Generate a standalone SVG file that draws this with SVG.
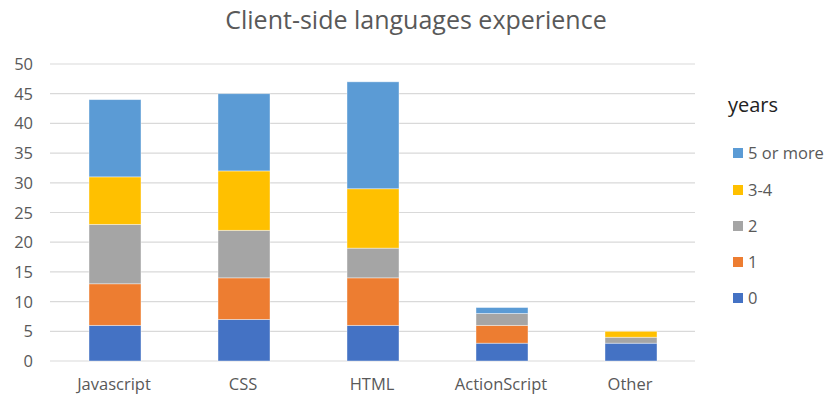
<svg xmlns="http://www.w3.org/2000/svg" width="826" height="396" viewBox="0 0 826 396">
<style>
text{font-family:"Open Sans","Liberation Sans",sans-serif;fill:#595959}
.t{font-size:25px}
.ax{font-size:16.5px}
.yl{text-anchor:end}
.xl{text-anchor:middle}
.g{stroke:#D9D9D9;stroke-width:1.2}
.s0{fill:#4472C4}.s1{fill:#ED7D31}.s2{fill:#A5A5A5}.s3{fill:#FFC000}.s4{fill:#5B9BD5}
.bar rect{stroke:#ffffff;stroke-opacity:0.5;stroke-width:0.8}
.lg{font-size:16.5px}
.lt{font-size:20px;fill:#222}
</style>
<rect width="826" height="396" fill="#ffffff"/>
<text class="t" x="416" y="29" text-anchor="middle">Client-side languages experience</text>
<g id="grid">
<line class="g" x1="50" x2="695" y1="361" y2="361"/>
<line class="g" x1="50" x2="695" y1="331.3" y2="331.3"/>
<line class="g" x1="50" x2="695" y1="301.6" y2="301.6"/>
<line class="g" x1="50" x2="695" y1="271.9" y2="271.9"/>
<line class="g" x1="50" x2="695" y1="242.2" y2="242.2"/>
<line class="g" x1="50" x2="695" y1="212.5" y2="212.5"/>
<line class="g" x1="50" x2="695" y1="182.8" y2="182.8"/>
<line class="g" x1="50" x2="695" y1="153.1" y2="153.1"/>
<line class="g" x1="50" x2="695" y1="123.4" y2="123.4"/>
<line class="g" x1="50" x2="695" y1="93.7" y2="93.7"/>
<line class="g" x1="50" x2="695" y1="64" y2="64"/>
</g>
<g id="yaxis">
<text class="ax yl" x="33" y="367">0</text>
<text class="ax yl" x="33" y="337.3">5</text>
<text class="ax yl" x="33" y="307.6">10</text>
<text class="ax yl" x="33" y="277.9">15</text>
<text class="ax yl" x="33" y="248.2">20</text>
<text class="ax yl" x="33" y="218.5">25</text>
<text class="ax yl" x="33" y="188.8">30</text>
<text class="ax yl" x="33" y="159.1">35</text>
<text class="ax yl" x="33" y="129.4">40</text>
<text class="ax yl" x="33" y="99.7">45</text>
<text class="ax yl" x="33" y="70">50</text>
</g>
<g id="javascript" class="bar">
<rect class="s0" x="89" y="325.36" width="52" height="35.64"/>
<rect class="s1" x="89" y="283.78" width="52" height="41.58"/>
<rect class="s2" x="89" y="224.38" width="52" height="59.4"/>
<rect class="s3" x="89" y="176.86" width="52" height="47.52"/>
<rect class="s4" x="89" y="99.64" width="52" height="77.22"/>
<text class="ax xl" x="114" y="390">Javascript</text>
</g>
<g id="css" class="bar">
<rect class="s0" x="218" y="319.42" width="52" height="41.58"/>
<rect class="s1" x="218" y="277.84" width="52" height="41.58"/>
<rect class="s2" x="218" y="230.32" width="52" height="47.52"/>
<rect class="s3" x="218" y="170.92" width="52" height="59.4"/>
<rect class="s4" x="218" y="93.7" width="52" height="77.22"/>
<text class="ax xl" x="243" y="390">CSS</text>
</g>
<g id="html" class="bar">
<rect class="s0" x="347" y="325.36" width="52" height="35.64"/>
<rect class="s1" x="347" y="277.84" width="52" height="47.52"/>
<rect class="s2" x="347" y="248.14" width="52" height="29.7"/>
<rect class="s3" x="347" y="188.74" width="52" height="59.4"/>
<rect class="s4" x="347" y="81.82" width="52" height="106.92"/>
<text class="ax xl" x="372" y="390">HTML</text>
</g>
<g id="actionscript" class="bar">
<rect class="s0" x="476" y="343.18" width="52" height="17.82"/>
<rect class="s1" x="476" y="325.36" width="52" height="17.82"/>
<rect class="s2" x="476" y="313.48" width="52" height="11.88"/>
<rect class="s4" x="476" y="307.54" width="52" height="5.94"/>
<text class="ax xl" x="501" y="390">ActionScript</text>
</g>
<g id="other" class="bar">
<rect class="s0" x="605" y="343.18" width="52" height="17.82"/>
<rect class="s2" x="605" y="337.24" width="52" height="5.94"/>
<rect class="s3" x="605" y="331.3" width="52" height="5.94"/>
<text class="ax xl" x="630" y="390">Other</text>
</g>
<g id="legend">
<text class="lt" x="728" y="112">years</text>
<rect class="s4" x="733" y="148" width="10" height="10"/>
<text class="lg" x="748" y="159">5 or more</text>
<rect class="s3" x="733" y="185" width="10" height="10"/>
<text class="lg" x="748" y="196">3-4</text>
<rect class="s2" x="733" y="221" width="10" height="10"/>
<text class="lg" x="748" y="232">2</text>
<rect class="s1" x="733" y="257" width="10" height="10"/>
<text class="lg" x="748" y="268">1</text>
<rect class="s0" x="733" y="293" width="10" height="10"/>
<text class="lg" x="748" y="304">0</text>
</g>
</svg>
